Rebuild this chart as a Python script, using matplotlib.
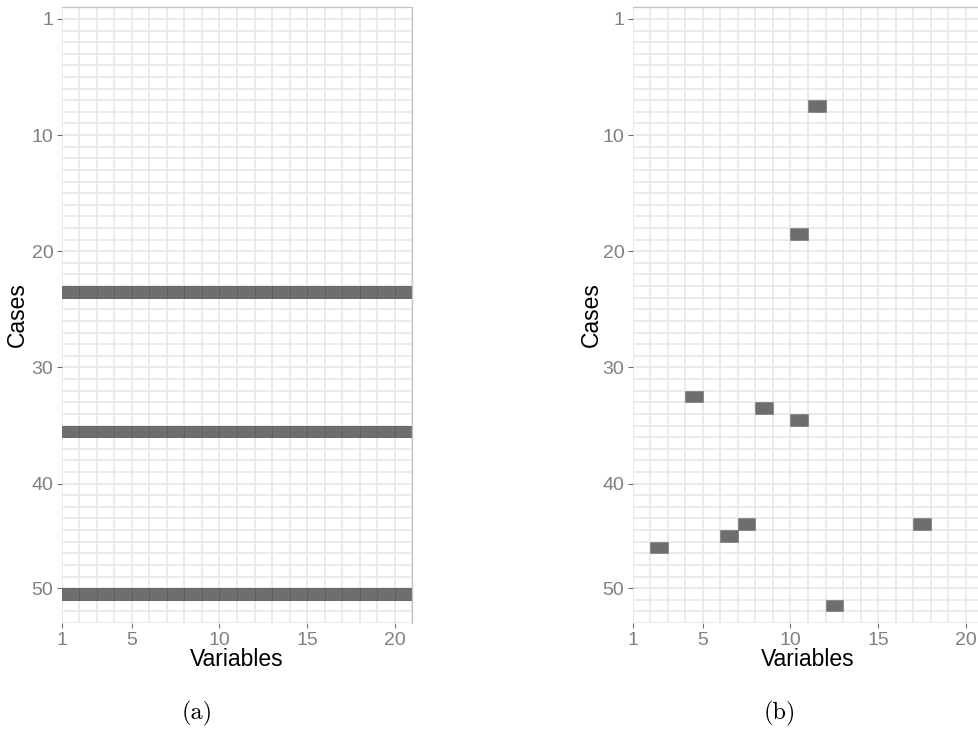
import matplotlib
matplotlib.use("Agg")
import matplotlib.pyplot as plt
from matplotlib.patches import Rectangle
import numpy as np

# ---- data ----
n_vars = 20
n_rows_top, n_rows_bottom = -1, 52          # row-coordinate extent of the panel
ytick_pos = [0, 10, 20, 30, 40, 49]
ytick_labels = ["1", "10", "20", "30", "40", "50"]
xtick_pos = [1, 5, 10, 15, 20]
xtick_labels = ["1", "5", "10", "15", "20"]

# panel (a): whole cases missing (row indices)
missing_rows_a = [23, 35, 49]
# panel (b): scattered missing cells (variable column, row)
missing_cols_b = [11, 10, 4, 8, 10, 7, 17, 6, 2, 12]
missing_rows_b = [7, 18, 32, 33, 34, 43, 43, 44, 45, 50]

captions = ["(a)", "(b)"]

W, H = 979, 730
fig = plt.figure(figsize=(W / 100, H / 100), dpi=100)

tile_face = "#6e6e6e"
tile_edge = "#5e5e5e"
grid_col = "#e6e6e6"
tick_col = "#808080"

def px(x0, y0, x1, y1):
    return [x0 / W, 1 - y1 / H, (x1 - x0) / W, (y1 - y0) / H]

ax_a = fig.add_axes(px(61.7, 7.3, 412.3, 623))
ax_b = fig.add_axes(px(632.7, 7.3, 983.3, 623))

def style(ax):
    ax.set_xlim(1, n_vars + 1)
    ax.set_ylim(n_rows_bottom, n_rows_top)
    for v in range(1, n_vars + 2):
        ax.axvline(v, color=grid_col, lw=1.1, zorder=0)
    for r in range(n_rows_top, n_rows_bottom + 1):
        ax.axhline(r, color=grid_col, lw=1.1, zorder=0)
    ax.set_xticks(xtick_pos)
    ax.set_xticklabels(xtick_labels)
    ax.set_yticks(ytick_pos)
    ax.set_yticklabels(ytick_labels)
    ax.tick_params(axis="both", colors="#707070", labelcolor=tick_col,
                   labelsize=14, length=3.5, width=0.8, pad=2.5)
    ax.tick_params(axis="x", pad=3)
    for lab in ax.get_xticklabels() + ax.get_yticklabels():
        lab.set_fontfamily("Liberation Sans")
    for s in ["left", "bottom"]:
        ax.spines[s].set_visible(False)
    for s in ["top", "right"]:
        ax.spines[s].set_color("#c4c4c4")
        ax.spines[s].set_linewidth(0.9)
    ax.set_facecolor("white")

style(ax_a)
style(ax_b)

for r in missing_rows_a:
    for v in range(1, n_vars + 1):
        ax_a.add_patch(Rectangle((v, r), 1, 1, facecolor=tile_face,
                                 edgecolor=tile_edge, lw=0.6, zorder=2))

for v, r in zip(missing_cols_b, missing_rows_b):
    ax_b.add_patch(Rectangle((v, r), 1, 1, facecolor=tile_face,
                             edgecolor=tile_face, lw=0.4, zorder=2))

# axis titles
for xc, yl_x in [(237, 17), (808, 591)]:
    fig.text(xc / W, 1 - 660 / H, "Variables", ha="center", va="center",
             fontsize=16.5, family="Liberation Sans", color="black")
    fig.text(yl_x / W, 1 - 315 / H, "Cases", ha="center", va="center",
             rotation=90, fontsize=16.5, family="Liberation Sans", color="black")

# captions
for xc, cap in zip([197, 780], captions):
    fig.text(xc / W, 1 - 713 / H, cap, ha="center", va="center",
             fontsize=17.5, family="cmr10", color="black")

fig.savefig("out.png", dpi=100)
